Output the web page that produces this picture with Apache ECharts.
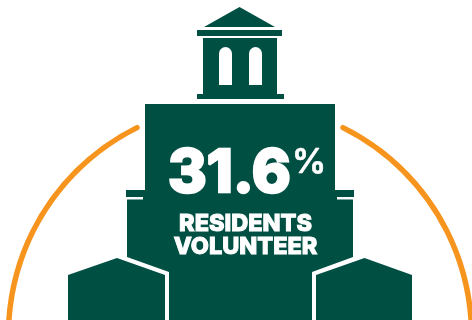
<!DOCTYPE html>
<html>
<head>
<meta charset="utf-8">
<style>html,body{margin:0;padding:0;background:#fff}#c{width:472px;height:320px}</style>
<script src="https://cdn.jsdelivr.net/npm/echarts@6/dist/echarts.min.js"></script>
</head>
<body>
<div id="c"></div>
<script>
// Share of residents who volunteer
const shareValues = [31.6];
const shareUnits = ['%'];
const captionLines = ['RESIDENTS', 'VOLUNTEER'];

const GREEN = '#004f43';
const ORANGE = '#f7941d';
const WHITE = '#ffffff';

const chart = echarts.init(document.getElementById('c'), null, { renderer: 'canvas' });

const poly = (points, fill) => ({ type: 'polygon', silent: true, shape: { points }, style: { fill } });
const box = (x, y, width, height, fill) => ({ type: 'rect', silent: true, shape: { x, y, width, height }, style: { fill } });
const disc = (cx, cy, r, fill) => ({ type: 'circle', silent: true, shape: { cx, cy, r }, style: { fill } });

// Courthouse silhouette behind the figures
const building = [
  poly([[239.5, 7], [204, 27], [275, 27]], GREEN),
  box(197, 30, 85, 6, GREEN),
  box(203, 38, 74, 58, GREEN),
  // Round-headed tower windows
  disc(225.5, 53.5, 6.5, WHITE),
  box(219, 53.5, 13, 31.5, WHITE),
  disc(255.5, 53.5, 6.5, WHITE),
  box(249, 53.5, 13, 31.5, WHITE),
  box(197, 94, 87, 5, GREEN),
  box(145, 104, 190, 88, GREEN),
  box(126, 190, 228, 7, GREEN),
  box(127, 197, 226, 123, GREEN),
  box(126, 197, 17, 2.5, WHITE),
  box(337, 197, 17, 2.5, WHITE),
  box(142, 187.5, 3, 1.5, WHITE),
  box(335, 187.5, 3, 1.5, WHITE),
  // Side wings, each set off from the hall by a white outline
  poly([[117, 253], [127, 253], [127, 257], [169, 272], [169, 320], [60, 320], [60, 270]], WHITE),
  poly([[364, 253], [353, 253], [353, 257], [312, 272], [312, 320], [420, 320], [420, 270]], WHITE),
  poly([[117, 258], [68, 275], [68, 320], [165, 320], [165, 275]], GREEN),
  poly([[364.5, 258], [316, 275], [316, 320], [412, 320], [412, 275]], GREEN),
  // Raised percent sign beside the figure
  {
    type: 'text', silent: true, x: 292, y: 145.5,
    style: { text: shareUnits[0], fill: WHITE, font: '600 34px Inter', textAlign: 'left', textVerticalAlign: 'top', stroke: WHITE, lineWidth: 0.6 }
  }
];

const cx = 240, cy = 335;

chart.setOption({
  animation: false,
  graphic: { elements: building },
  series: [{
    type: 'gauge',
    center: [cx, cy],
    radius: 234.3,
    startAngle: 63.6,
    endAngle: -243.6,
    min: 0,
    max: 100,
    pointer: { show: false },
    progress: { show: false },
    axisTick: { show: false },
    splitLine: { show: false },
    axisLabel: { show: false },
    axisLine: { roundCap: true, lineStyle: { width: 5.5, color: [[1, ORANGE]] } },
    title: {
      show: true,
      offsetCenter: [5.5, 235.5 - cy],
      color: WHITE,
      fontFamily: 'Inter',
      fontWeight: 800,
      fontSize: 23.5,
      lineHeight: 23,
      textBorderColor: WHITE,
      textBorderWidth: 1
    },
    detail: {
      show: true,
      offsetCenter: [-10.5, 174.5 - cy],
      valueAnimation: false,
      color: WHITE,
      fontFamily: 'Inter',
      fontWeight: 800,
      fontSize: 59,
      textBorderColor: WHITE,
      textBorderWidth: 2.5,
      formatter: v => `${v}`
    },
    data: [{ value: shareValues[0], name: captionLines.join('\n') }]
  }]
});
</script>
</body>
</html>
